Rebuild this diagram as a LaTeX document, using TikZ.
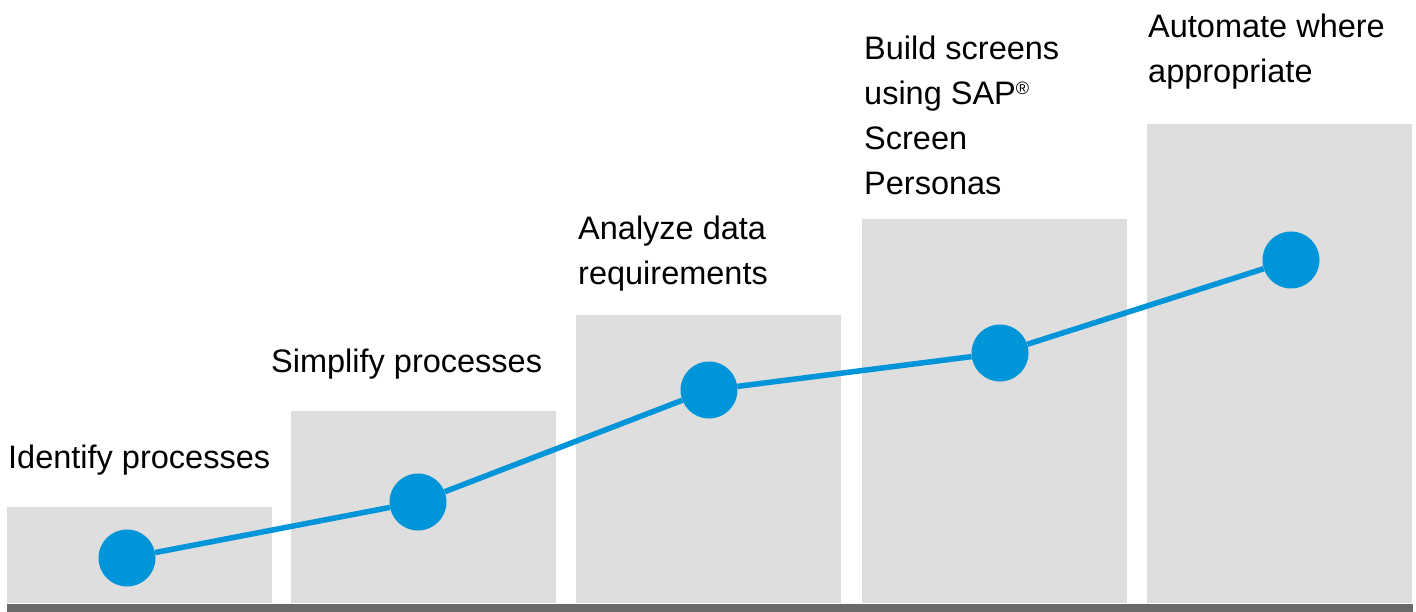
\documentclass[tikz,border=0pt]{standalone}
\usepackage{fontspec}
\setmainfont{Liberation Sans}
\definecolor{boxgray}{RGB}{222,222,222}
\definecolor{basegray}{RGB}{106,106,106}
\definecolor{sapblue}{RGB}{0,148,217}
\begin{document}
\begin{tikzpicture}[x=1pt,y=-1pt,
  stepbar/.style={fill=boxgray},
  dot/.style={circle,fill=sapblue,inner sep=0pt,minimum size=57pt},
  link/.style={draw=sapblue,line width=5.5pt},
  label/.style={anchor=base west,inner sep=0pt,align=left,text=black,
    font=\fontsize{32.5}{45.3}\selectfont}]
\useasboundingbox (0,0) rectangle (1416,612);
% bars
\fill[stepbar] (7,507) rectangle (272,603);
\fill[stepbar] (291,411) rectangle (556,603);
\fill[stepbar] (576,315) rectangle (841,603);
\fill[stepbar] (862,219) rectangle (1127,603);
\fill[stepbar] (1147,124) rectangle (1412,603);
\fill[basegray] (7,604) rectangle (1413,612);
% dots
\node[dot] (d1) at (127,558) {};
\node[dot] (d2) at (418,502) {};
\node[dot] (d3) at (709,390) {};
\node[dot] (d4) at (1000,353) {};
\node[dot] (d5) at (1291,260) {};
\draw[link] (d1) -- (d2) -- (d3) -- (d4) -- (d5);
% labels (anchor at baseline of last line)
\node[label] (t1) at (8,468) {Identify processes};
\node[label] (t2) at (271,372) {Simplify processes};
\node[label] (t3) at (578,285) {Analyze data\\requirements};
\node[label] (t4) at (864,195) {Build screens\\using SAP\raisebox{10pt}{\fontsize{18}{18}\selectfont ®}\\Screen\\Personas};
\node[label] (t5) at (1148,83) {Automate where\\appropriate};
\end{tikzpicture}
\end{document}
